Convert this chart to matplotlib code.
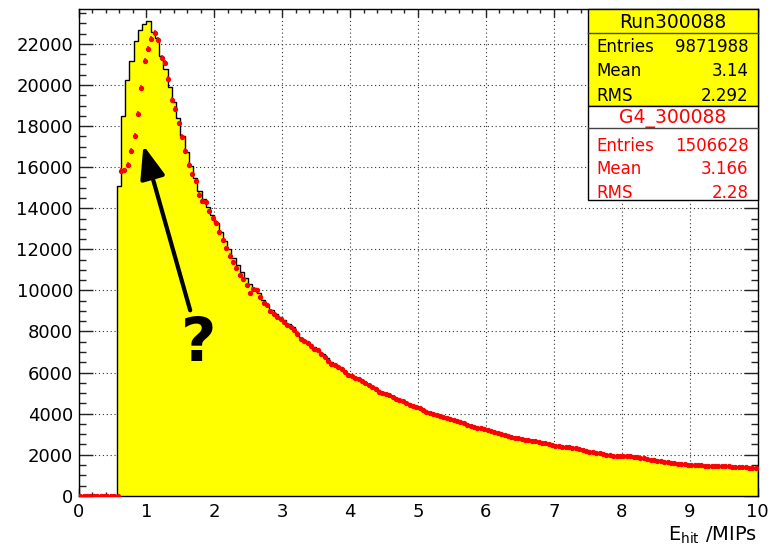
import numpy as np
import matplotlib.pyplot as plt
from matplotlib.patches import Rectangle
from matplotlib.lines import Line2D
from matplotlib.ticker import MultipleLocator

# Hit energy spectrum of run 300088, bin width 1/16 MIP, first filled bin at 0.5625
data_lo = 0.5625
data_width = 0.0625
data_counts = [
    15060, 18470, 20220, 21190, 22160, 22680, 22970, 23100,
    22600, 22300, 21400, 20800, 19900, 19150, 18400, 17500,
    16750, 16050, 15450, 14850, 14450, 14050, 13650, 13300,
    12850, 12400, 12000, 11600, 11250, 10900, 10600, 10300,
    10100, 9850, 9550, 9300, 9050, 8850, 8700, 8550,
    8350, 8200, 7950, 7700, 7550, 7400, 7250, 7100,
    6900, 6700, 6500, 6400, 6250, 6100, 5950, 5850,
    5750, 5650, 5500, 5400, 5300, 5150, 5050, 4950,
    4880, 4780, 4680, 4600, 4520, 4440, 4360, 4270,
    4170, 4070, 3990, 3930, 3860, 3810, 3750, 3690,
    3640, 3570, 3480, 3410, 3360, 3310, 3260, 3210,
    3150, 3100, 3030, 2970, 2910, 2870, 2820, 2780,
    2750, 2710, 2660, 2620, 2580, 2540, 2500, 2460,
    2420, 2390, 2370, 2340, 2310, 2270, 2220, 2170,
    2130, 2090, 2050, 2010, 1980, 1950, 1940, 1930,
    1930, 1910, 1880, 1850, 1810, 1780, 1750, 1720,
    1690, 1650, 1620, 1600, 1570, 1540, 1520, 1510,
    1500, 1490, 1470, 1460, 1450, 1450, 1440, 1440,
    1430, 1420, 1400, 1390, 1370, 1350, 1340,
]

# Geant4 simulation scaled to the run, bin width 0.05 MIP, first filled bin at 0.6
g4_lo = 0.6
g4_width = 0.05
g4_counts = [
    15820, 15850, 16110, 16780, 17510, 18600, 19840, 21160, 21760, 22240,
    22520, 22200, 21320, 21070, 20280, 19270, 18840, 18130, 17470, 16790,
    16100, 15650, 15310, 14650, 14340, 14290, 13860, 13510, 13300, 12830,
    12450, 12040, 11690, 11380, 11100, 10750, 10540, 10280, 9880, 10070,
    10010, 9680, 9400, 9280, 8980, 8870, 8710, 8620, 8480, 8330,
    8200, 8090, 7890, 7640, 7560, 7440, 7290, 7170, 7110, 6900,
    6780, 6560, 6420, 6350, 6260, 6180, 6010, 5880, 5830, 5720,
    5690, 5590, 5480, 5380, 5310, 5180, 5060, 4990, 4950, 4900,
    4820, 4730, 4660, 4600, 4520, 4440, 4390, 4330, 4260, 4180,
    4090, 4020, 3980, 3930, 3870, 3820, 3780, 3730, 3690, 3630,
    3600, 3540, 3460, 3390, 3350, 3310, 3280, 3240, 3200, 3160,
    3110, 3070, 3010, 2960, 2910, 2880, 2830, 2800, 2770, 2740,
    2720, 2690, 2650, 2610, 2570, 2550, 2510, 2490, 2440, 2420,
    2400, 2380, 2360, 2340, 2310, 2290, 2240, 2200, 2150, 2130,
    2100, 2070, 2030, 2010, 1980, 1960, 1930, 1940, 1920, 1950,
    1940, 1900, 1870, 1850, 1820, 1790, 1760, 1740, 1710, 1690,
    1660, 1630, 1610, 1590, 1570, 1550, 1530, 1520, 1510, 1500,
    1500, 1480, 1470, 1460, 1450, 1460, 1440, 1450, 1450, 1430,
    1420, 1410, 1410, 1390, 1380, 1360, 1340, 1330,
]

run_name = "Run300088"
run_stats = [("Entries", "9871988"), ("Mean", "3.14"), ("RMS", "2.292")]
g4_name = "G4_300088"
g4_stats = [("Entries", "1506628"), ("Mean", "3.166"), ("RMS", "2.28")]

W, H = 771, 546


def fpos(x, y):
    """pixel position -> figure fraction"""
    return x / W, 1 - y / H


# pad the empty bins below threshold
n_data_empty = int(round(data_lo / data_width))
data_vals = np.concatenate([np.zeros(n_data_empty), data_counts])
data_edges = np.arange(len(data_vals) + 1) * data_width

n_g4_empty = int(round(g4_lo / g4_width))
g4_vals = np.concatenate([np.zeros(n_g4_empty), g4_counts])
g4_centers = (np.arange(len(g4_vals)) + 0.5) * g4_width
g4_err = np.sqrt(g4_vals)  # plain sqrt(content), no Sumw2

fig = plt.figure(figsize=(W / 100, H / 100), dpi=100)
ax = fig.add_axes([78.5 / W, 1 - 495.8 / H, (757.5 - 78.5) / W, (495.8 - 9) / H])

ax.stairs(data_vals, data_edges, fill=True, color="#ffff00", zorder=1)
ax.stairs(data_vals, data_edges, color="black", lw=1, zorder=2)
ax.errorbar(g4_centers, g4_vals, xerr=g4_width / 2, yerr=g4_err, fmt="o",
            ms=2.8, color="red", mec="red", elinewidth=1.1, capsize=0, zorder=3)

ax.set_xlim(0, 10)
ax.set_ylim(0, 23700)
ax.xaxis.set_major_locator(MultipleLocator(1))
ax.xaxis.set_minor_locator(MultipleLocator(0.2))
ax.yaxis.set_major_locator(MultipleLocator(2000))
ax.yaxis.set_minor_locator(MultipleLocator(500))
ax.tick_params(which="both", direction="in", top=True, right=True,
               labelsize=13, width=1, color="#222222")
ax.tick_params(axis="x", which="major", length=6, pad=5)
ax.tick_params(axis="x", which="minor", length=3.2)
ax.tick_params(axis="y", which="major", length=10, pad=4)
ax.tick_params(axis="y", which="minor", length=5)
ax.set_axisbelow(True)
ax.grid(True, which="major", ls=(0, (1, 2.5)), color="#333333", lw=0.8)
for sp in ax.spines.values():
    sp.set_linewidth(1)

ax.set_xlabel(r"E$_{\mathrm{hit}}$ /MIPs", loc="right", fontsize=14, labelpad=3)

# arrow pointing at the low-energy deficit
ax.annotate("", xy=(0.956, 17060), xytext=(1.645, 9030),
            arrowprops=dict(arrowstyle="-|>,head_length=1.0,head_width=0.38",
                            lw=3, color="black", mutation_scale=20,
                            shrinkA=0, shrinkB=0))
ax.text(1.77, 7350, "?", fontsize=44, fontweight="bold", ha="center", va="center")

# stat boxes
x0, x1 = 588, 757.5


def stat_box(top, title_bottom, bottom, face, color, title, rows, row_y):
    fig.add_artist(Rectangle(fpos(x0, bottom), (x1 - x0) / W, (bottom - top) / H,
                             facecolor=face, edgecolor="black", lw=1,
                             transform=fig.transFigure))
    fig.add_artist(Line2D([x0 / W, x1 / W], [1 - title_bottom / H] * 2,
                          color="#444444", lw=1, transform=fig.transFigure))
    fig.text(*fpos((x0 + x1) / 2, (top + title_bottom) / 2 + 1), title,
             fontsize=13.5, color=color, ha="center", va="center")
    for (name, val), y in zip(rows, row_y):
        fig.text(*fpos(596.5, y), name, fontsize=12, color=color, ha="left", va="center")
        fig.text(*fpos(748.5, y), val, fontsize=12, color=color, ha="right", va="center")


stat_box(9.3, 33.3, 106, "#ffff00", "black", run_name, run_stats, [46.7, 71, 96])
stat_box(106, 128.3, 200, "white", "red", g4_name, g4_stats, [145.7, 169.3, 192.7])

fig.savefig("out.png", dpi=100)
